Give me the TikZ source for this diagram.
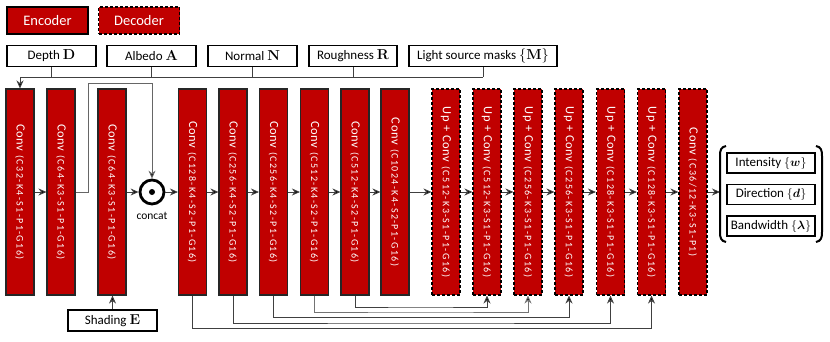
\documentclass[tikz,border=0pt]{standalone}
\usepackage{amsmath}
\usepackage{bm}
\usepackage[no-math]{fontspec}
\setmainfont{Carlito}
\newfontfamily\smallf[LetterSpace=14]{Carlito}
\newfontfamily\bigf[LetterSpace=5]{Carlito}
\usetikzlibrary{arrows.meta,calc}
\definecolor{blockred}{HTML}{C00000}
\newcommand{\blk}[2]{\rotatebox{-90}{{\bigf\fontsize{12.5}{13}\selectfont #1}\hspace{4pt}{\smallf\fontsize{10}{11}\selectfont #2}}}
\newcommand{\mb}[1]{{\fontsize{14}{14}\selectfont$\mathbf{#1}$}}
\begin{document}
\begin{tikzpicture}[x=1pt,y=-1pt,
  enc/.style={draw=black!85, line width=1.1pt, fill=blockred, minimum width=28pt, minimum height=206pt, inner sep=0pt, text=white},
  dec/.style={enc, draw=black, dash pattern=on 3pt off 2pt},
  legbox/.style={draw=black, line width=1.5pt, fill=blockred, minimum height=27pt, minimum width=81pt, inner sep=0pt, text=white, font=\fontsize{14.5}{15}\selectfont},
  inbox/.style={draw=black, line width=1.2pt, fill=white, minimum height=21pt, inner sep=0pt, font=\fontsize{13}{14}\selectfont},
  conn/.style={draw=black!75, line width=0.9pt},
  arr/.style={conn, -{Stealth[length=8pt,width=7pt,fill=black]}},
]
\useasboundingbox (0,0) rectangle (830,341);

% legend
\node[legbox] (legenc) at (47.5,20.5) {Encoder};
\node[legbox, dash pattern=on 3pt off 2pt] (legdec) at (139,20.5) {Decoder};

% input boxes
\node[inbox, minimum width=89pt] (depth) at (51.5,56) {Depth \mb{D}};
\node[inbox, minimum width=89pt] (albedo) at (151.5,56) {Albedo \mb{A}};
\node[inbox, minimum width=89pt] (normal) at (252.5,56) {Normal \mb{N}};
\node[inbox, minimum width=88pt] (rough) at (353,56) {Roughness \mb{R}};
\node[inbox, minimum width=148pt] (light) at (483,56) {Light source masks {\fontsize{14}{14}\selectfont$\{\mathbf{M}\}$}};

% blocks
\node[enc] (b1) at (20,192) {\blk{Conv}{(C32-K4-S1-P1-G16)}};
\node[enc] (b2) at (61,192) {\blk{Conv}{(C64-K3-S1-P1-G16)}};
\node[enc] (b3) at (112,192) {\blk{Conv}{(C64-K3-S1-P1-G16)}};
\node[enc] (b4) at (192.5,192) {\blk{Conv}{(C128-K4-S2-P1-G16)}};
\node[enc] (b5) at (233,192) {\blk{Conv}{(C256-K4-S2-P1-G16)}};
\node[enc] (b6) at (273.5,192) {\blk{Conv}{(C256-K4-S2-P1-G16)}};
\node[enc] (b7) at (314.5,192) {\blk{Conv}{(C512-K4-S2-P1-G16)}};
\node[enc] (b8) at (355,192) {\blk{Conv}{(C512-K4-S2-P1-G16)}};
\node[enc] (b9) at (395,192) {\blk{Conv}{(C1024-K4-S2-P1-G16)}};
\node[dec] (b10) at (446,192) {\blk{Up + Conv}{(C512-K3-S1-P1-G16)}};
\node[dec] (b11) at (487,192) {\blk{Up + Conv}{(C512-K3-S1-P1-G16)}};
\node[dec] (b12) at (528,192) {\blk{Up + Conv}{(C256-K3-S1-P1-G16)}};
\node[dec] (b13) at (569,192) {\blk{Up + Conv}{(C256-K3-S1-P1-G16)}};
\node[dec] (b14) at (610.5,192) {\blk{Up + Conv}{(C128-K3-S1-P1-G16)}};
\node[dec] (b15) at (651.5,192) {\blk{Up + Conv}{(C128-K3-S1-P1-G16)}};
\node[dec] (b16) at (693,192) {\blk{Conv}{(C36/12-K3-S1-P1)}};

% concat
\node[circle, draw=black, line width=2.8pt, minimum size=24pt, inner sep=0pt] (concat) at (152,192) {};
\fill[black] (concat.center) circle (3pt);
\node[font=\fontsize{11.5}{12}\selectfont, inner sep=0pt] (clabel) at (152,216) {concat};

% shading
\node[inbox, minimum width=89pt] (shade) at (112.5,320.5) {Shading \mb{E}};

% input bus
\coordinate (bus) at (20,77);
\draw[conn] (depth.south) -- (depth.south |- bus);
\draw[conn] (albedo.south) -- (albedo.south |- bus);
\draw[conn] (normal.south) -- (normal.south |- bus);
\draw[conn] (rough.south) -- (rough.south |- bus);
\draw[conn] (light.south) -- (light.south |- bus);
\draw[conn] (bus) -- (light.south |- bus);
\draw[arr] (bus) -- (b1.north);

% main chain
\draw[arr] (b1) -- (b2);
\coordinate (k1) at (88,83.5);
\draw[conn, draw=black!60, -{Stealth[length=8pt,width=7pt,fill=black]}] (b2.east) -| (k1) -| (concat.north);
\draw[arr] (b3) -- (concat);
\draw[arr] (concat) -- (b4);
\draw[arr] (b4) -- (b5);
\draw[arr] (b5) -- (b6);
\draw[arr] (b6) -- (b7);
\draw[arr] (b7) -- (b8);
\draw[arr] (b8) -- (b9);
\draw[arr] (b9) -- (b10);
\draw[arr] (b10) -- (b11);
\draw[arr] (b11) -- (b12);
\draw[arr] (b12) -- (b13);
\draw[arr] (b13) -- (b14);
\draw[arr] (b14) -- (b15);
\draw[arr] (b15) -- (b16);
\coordinate (brL) at (720,192);
\draw[arr] (b16) -- (brL);
\draw[arr] (shade.north) -- (shade.north |- b3.south);

% skip connections
\coordinate (s8) at (420,307);
\coordinate (s7) at (420,312);
\coordinate (s6) at (420,317.5);
\coordinate (s5) at (420,323);
\coordinate (s4) at (420,328.5);
\draw[arr] (b8.south) |- (s8) -| (b11.south);
\draw[arr, draw=black!55] (b7.south) |- (s7) -| (b12.south);
\draw[arr] (b6.south) |- (s6) -| (b13.south);
\draw[arr] (b5.south) |- (s5) -| (b14.south);
\draw[arr] (b4.south) |- (s4) -| (b15.south);

% outputs
\node[inbox, minimum width=88pt, minimum height=20pt] (inten) at (771,163) {Intensity $\{\bm{w}\}$};
\node[inbox, minimum width=88pt, minimum height=20pt] (direc) at (771,194.5) {Direction $\{\bm{d}\}$};
\node[inbox, minimum width=88pt, minimum height=20pt] (bandw) at (771,226) {Bandwidth $\{\bm{\lambda}\}$};
\draw[line width=2pt, black] (726,146) .. controls (721,147) and (720,150) .. (720,156) -- (720,232) .. controls (720,238) and (721,241) .. (726,242);
\draw[line width=2pt, black] (816,146) .. controls (821,147) and (822,150) .. (822,156) -- (822,232) .. controls (822,238) and (821,241) .. (816,242);
\end{tikzpicture}
\end{document}
